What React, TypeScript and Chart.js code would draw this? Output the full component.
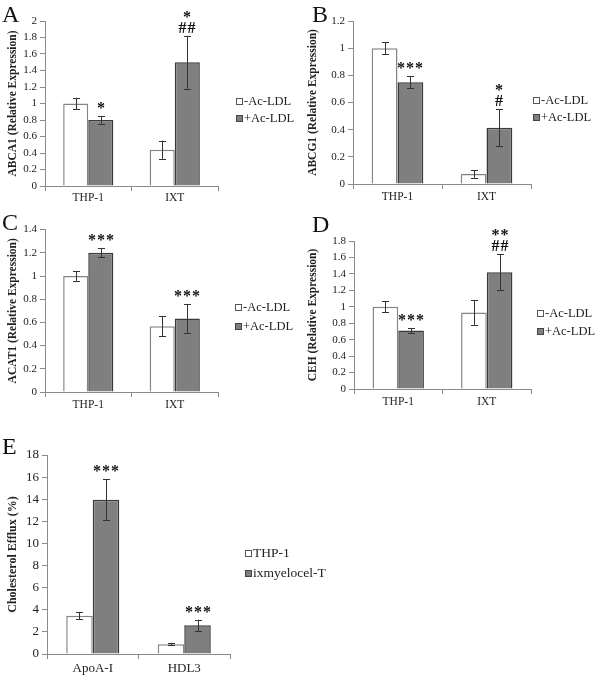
import React, { useEffect, useRef } from "react";
import { Chart, registerables } from "chart.js";

Chart.register(...registerables);

// ---------- data ----------
const cellGroups = ["THP-1", "IXT"];
const ldlLegend = ["-Ac-LDL", "+Ac-LDL"];

const abca1Minus = [1.0, 0.44];
const abca1MinusErr = [0.07, 0.11];
const abca1Plus = [0.8, 1.5];
const abca1PlusErr = [0.045, 0.32];
const abca1PlusMarks = [["*"], ["*", "##"]];

const abcg1Minus = [1.0, 0.073];
const abcg1MinusErr = [0.045, 0.028];
const abcg1Plus = [0.75, 0.415];
const abcg1PlusErr = [0.045, 0.135];
const abcg1PlusMarks = [["***"], ["*", "#"]];

const acat1Minus = [1.0, 0.567];
const acat1MinusErr = [0.042, 0.088];
const acat1Plus = [1.2, 0.633];
const acat1PlusErr = [0.04, 0.125];
const acat1PlusMarks = [["***"], ["***"]];

const cehMinus = [1.0, 0.93];
const cehMinusErr = [0.067, 0.15];
const cehPlus = [0.71, 1.42];
const cehPlusErr = [0.03, 0.22];
const cehPlusMarks = [["***"], ["**", "##"]];

const effluxGroups = ["ApoA-I", "HDL3"];
const effluxLegend = ["THP-1", "ixmyelocel-T"];
const effluxThp = [3.45, 0.88];
const effluxThpErr = [0.32, 0.07];
const effluxIxm = [13.95, 2.6];
const effluxIxmErr = [1.87, 0.5];
const effluxIxmMarks = [["***"], ["***"]];

const panelLetters = ["A", "B", "C", "D", "E"];
const yTitles = [
  "ABCA1 (Relative Expression)",
  "ABCG1 (Relative Expression)",
  "ACAT1 (Relative Expression)",
  "CEH (Relative Expression)",
  "Cholesterol Efflux (%)",
];
const yMax = [2, 1.2, 1.4, 1.8, 18];
const yStep = [0.2, 0.2, 0.2, 0.2, 2];

// ---------- styling ----------
const FONT = '"Liberation Serif", "DejaVu Serif", serif';
const WHITE_FILL = "#ffffff";
const WHITE_BORDER = "#858585";
const GREY_FILL = "#7f7f7f";
const GREY_BORDER = "#3a3a3a";
const AXIS = "#8a8a8a";
const TEXT = "#222222";

type PanelLayout = {
  left: number; top: number; w: number; h: number;
  yw: number; padT: number; padR: number; xh: number; xPad: number;
  tickSize: number; xSize: number; titleSize: number;
  legendX: number; legendY: [number, number]; legendSize: number;
  letterX: number; letterY: number;
};

const layouts: PanelLayout[] = [
  { left: 0, top: 0, w: 300, h: 215, yw: 45, padT: 21, padR: 82, xh: 29, xPad: 0, tickSize: 11, xSize: 11.5, titleSize: 11.5, legendX: 236, legendY: [101, 118], legendSize: 12.5, letterX: 2, letterY: 2 },
  { left: 300, top: 0, w: 300, h: 215, yw: 53, padT: 21, padR: 69, xh: 31, xPad: 1, tickSize: 11, xSize: 11.5, titleSize: 11.5, legendX: 533, legendY: [100, 117], legendSize: 12.5, letterX: 312, letterY: 2 },
  { left: 0, top: 220, w: 300, h: 215, yw: 45, padT: 7, padR: 82, xh: 43, xPad: 1, tickSize: 11, xSize: 11.5, titleSize: 11.5, legendX: 235, legendY: [307, 326], legendSize: 12.5, letterX: 2, letterY: 210 },
  { left: 300, top: 220, w: 300, h: 215, yw: 54, padT: 21, padR: 69, xh: 46, xPad: 1, tickSize: 11, xSize: 11.5, titleSize: 11.5, legendX: 537, legendY: [313, 331], legendSize: 12.5, letterX: 312, letterY: 212 },
  { left: 0, top: 440, w: 350, h: 235, yw: 47, padT: 15, padR: 120, xh: 21, xPad: 2, tickSize: 13, xSize: 13, titleSize: 12, legendX: 245, legendY: [553, 573], legendSize: 13.5, letterX: 2, letterY: 434 },
];

type PanelData = {
  cats: string[]; legend: string[];
  a: number[]; aErr: number[]; b: number[]; bErr: number[]; bMarks: string[][];
};

const panelData: PanelData[] = [
  { cats: cellGroups, legend: ldlLegend, a: abca1Minus, aErr: abca1MinusErr, b: abca1Plus, bErr: abca1PlusErr, bMarks: abca1PlusMarks },
  { cats: cellGroups, legend: ldlLegend, a: abcg1Minus, aErr: abcg1MinusErr, b: abcg1Plus, bErr: abcg1PlusErr, bMarks: abcg1PlusMarks },
  { cats: cellGroups, legend: ldlLegend, a: acat1Minus, aErr: acat1MinusErr, b: acat1Plus, bErr: acat1PlusErr, bMarks: acat1PlusMarks },
  { cats: cellGroups, legend: ldlLegend, a: cehMinus, aErr: cehMinusErr, b: cehPlus, bErr: cehPlusErr, bMarks: cehPlusMarks },
  { cats: effluxGroups, legend: effluxLegend, a: effluxThp, aErr: effluxThpErr, b: effluxIxm, bErr: effluxIxmErr, bMarks: effluxIxmMarks },
];

const errorBarPlugin = {
  id: "errorBars",
  afterDatasetsDraw(chart: any) {
    const { ctx } = chart;
    const yScale = chart.scales.y;
    chart.data.datasets.forEach((ds: any, di: number) => {
      const meta = chart.getDatasetMeta(di);
      meta.data.forEach((bar: any, i: number) => {
        const v = ds.data[i];
        const e = ds.errors ? ds.errors[i] : 0;
        const x = Math.round(bar.x) + 0.5;
        const yt = yScale.getPixelForValue(v + e);
        const yb = yScale.getPixelForValue(v - e);
        ctx.save();
        ctx.strokeStyle = "#333333";
        ctx.lineWidth = 1;
        ctx.beginPath();
        ctx.moveTo(x, yt);
        ctx.lineTo(x, yb);
        ctx.moveTo(x - 3.5, Math.round(yt) + 0.5);
        ctx.lineTo(x + 3.5, Math.round(yt) + 0.5);
        ctx.moveTo(x - 3.5, Math.round(yb) + 0.5);
        ctx.lineTo(x + 3.5, Math.round(yb) + 0.5);
        ctx.stroke();
        const lines: string[] = ds.marks ? ds.marks[i] || [] : [];
        ctx.font = `bold 16px ${FONT}`;
        ctx.textAlign = "center";
        ctx.textBaseline = "alphabetic";
        ctx.fillStyle = "#111111";
        try { (ctx as any).letterSpacing = "1px"; } catch (err) { /* ignore */ }
        let base = yt - 3;
        for (let k = lines.length - 1; k >= 0; k--) {
          ctx.fillText(lines[k], x, base);
          base -= 11;
        }
        ctx.restore();
      });
    });
  },
};

function Panel({ idx }: { idx: number }) {
  const ref = useRef<HTMLCanvasElement | null>(null);
  const L = layouts[idx];
  const D = panelData[idx];
  useEffect(() => {
    if (!ref.current) return;
    const chart = new Chart(ref.current, {
      type: "bar",
      data: {
        labels: D.cats,
        datasets: [
          {
            label: D.legend[0],
            data: D.a,
            backgroundColor: WHITE_FILL,
            borderColor: WHITE_BORDER,
            borderWidth: 1.5,
            errors: D.aErr,
            marks: [],
          } as any,
          {
            label: D.legend[1],
            data: D.b,
            backgroundColor: GREY_FILL,
            borderColor: GREY_BORDER,
            borderWidth: 1.5,
            errors: D.bErr,
            marks: D.bMarks,
          } as any,
        ],
      },
      options: {
        animation: false,
        responsive: false,
        maintainAspectRatio: false,
        devicePixelRatio: 1,
        layout: { padding: { left: 0, right: L.padR, top: L.padT, bottom: 0 } },
        datasets: { bar: { categoryPercentage: 0.58, barPercentage: 1 } },
        plugins: { legend: { display: false }, tooltip: { enabled: false }, title: { display: false } },
        scales: {
          x: {
            grid: { display: true, drawOnChartArea: false, drawTicks: true, tickLength: 5, color: AXIS, offset: true },
            border: { display: true, color: AXIS, width: 1 },
            ticks: { color: TEXT, padding: L.xPad, font: { family: FONT, size: L.xSize } },
            afterFit: (s: any) => { s.height = L.xh; },
          },
          y: {
            min: 0,
            max: yMax[idx],
            grid: { display: true, drawOnChartArea: false, drawTicks: true, tickLength: 5, color: AXIS },
            border: { display: true, color: AXIS, width: 1 },
            ticks: {
              stepSize: yStep[idx],
              color: TEXT,
              padding: 3,
              font: { family: FONT, size: L.tickSize },
              callback: (v: any) => String(Math.round(Number(v) * 10) / 10),
            },
            title: {
              display: true,
              text: yTitles[idx],
              color: TEXT,
              padding: { top: 6, bottom: 0 },
              font: { family: FONT, size: L.titleSize, weight: "bold" },
            },
            afterFit: (s: any) => { s.width = L.yw; },
          },
        },
      } as any,
      plugins: [errorBarPlugin],
    });
    return () => chart.destroy();
  }, [idx]);

  const swatch = (fill: string, border: string): React.CSSProperties => ({
    display: "inline-block",
    width: 5,
    height: 5,
    background: fill,
    border: `1px solid ${border}`,
    marginRight: 1,
  });

  return (
    <>
      <canvas
        ref={ref}
        width={L.w}
        height={L.h}
        style={{ position: "absolute", left: L.left, top: L.top, width: L.w, height: L.h }}
      />
      {D.legend.map((name, i) => (
        <div
          key={name}
          style={{
            position: "absolute",
            left: L.legendX,
            top: L.legendY[i] - 8,
            height: 16,
            display: "flex",
            alignItems: "center",
            fontFamily: FONT,
            fontSize: L.legendSize,
            color: TEXT,
            whiteSpace: "nowrap",
          }}
        >
          <span style={i === 0 ? swatch(WHITE_FILL, "#555") : swatch(GREY_FILL, "#444")} />
          <span>{name}</span>
        </div>
      ))}
      <div
        style={{
          position: "absolute",
          left: L.letterX,
          top: L.letterY,
          fontFamily: FONT,
          fontSize: 24,
          lineHeight: 1,
          color: "#111",
        }}
      >
        {panelLetters[idx]}
      </div>
    </>
  );
}

export default function App() {
  return (
    <div style={{ position: "absolute", left: 0, top: 0, width: 600, height: 675, background: "#fff", overflow: "hidden" }}>
      {layouts.map((_, i) => (
        <Panel key={i} idx={i} />
      ))}
    </div>
  );
}
